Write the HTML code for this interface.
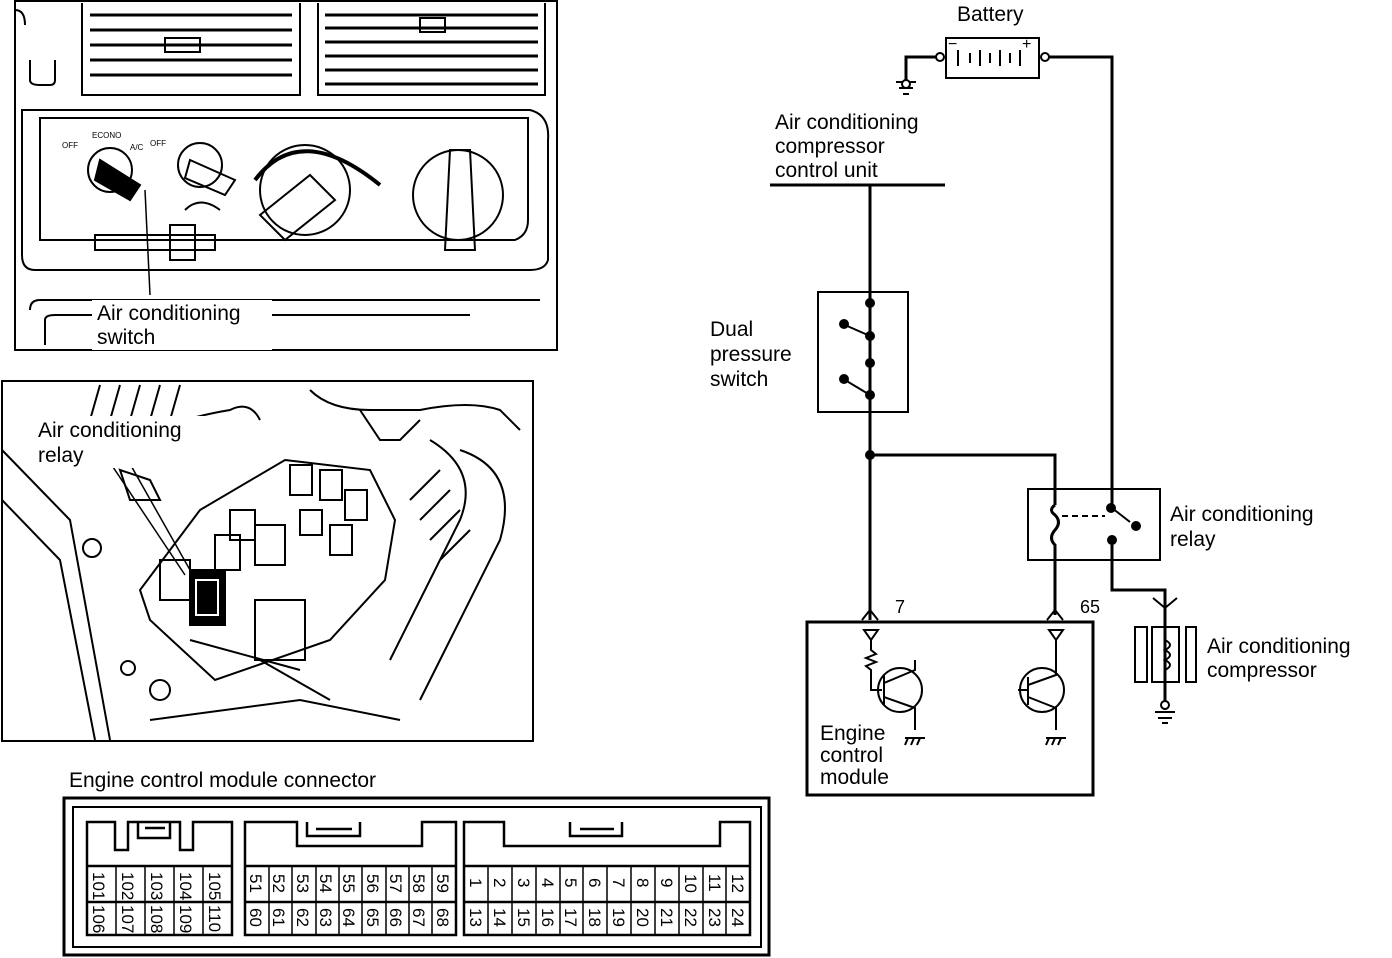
<!DOCTYPE html>
<html><head><meta charset="utf-8"><style>
html,body{margin:0;padding:0;background:#fff;}
svg{display:block;}
text{font-family:"Liberation Sans",sans-serif;fill:#000;}
</style></head><body>
<svg width="1392" height="958" viewBox="0 0 1392 958" xmlns="http://www.w3.org/2000/svg">
<g fill="none" stroke="#000" stroke-width="2">
<rect x="15" y="1" width="542" height="349"/>
<path d="M82 3 V95 H300 V3"/>
<path d="M318 3 V95 H545 V3"/>
<g stroke-width="3">
<path d="M90 15 H292 M90 30 H292 M90 45 H292 M90 60 H292 M90 75 H292"/>
<path d="M325 15 H538 M325 28 H538 M325 42 H538 M325 56 H538 M325 70 H538 M325 84 H538"/>
</g>
<rect x="165" y="38" width="35" height="14"/>
<rect x="420" y="18" width="25" height="14"/>
<path d="M30 60 V80 Q30 85 40 85 H50 Q55 85 55 80 V60"/>
<path d="M15 10 Q25 10 25 25"/>
<path d="M22 110 H530 Q550 115 548 140 V260 Q545 270 530 270 H35 Q22 270 22 255 Z"/>
<path d="M40 118 H528 V220 Q528 235 515 240 H40 Z"/>
<circle cx="110" cy="170" r="22"/>
<path d="M100 160 L140 185 L130 200 L95 180 Z" fill="#000"/>
<circle cx="200" cy="165" r="22"/>
<path d="M190 160 L235 180 L225 195 L185 178 Z"/>
<circle cx="305" cy="190" r="45"/>
<path d="M260 215 L310 175 L335 200 L285 240 Z"/>
<path d="M255 180 Q300 120 380 185" stroke-width="4"/>
<circle cx="458" cy="195" r="45"/>
<path d="M450 150 L470 150 L475 250 L445 250 Z"/>
<path d="M95 235 H215 V250 H95 Z"/>
<rect x="170" y="225" width="25" height="35"/>
<path d="M185 210 Q200 195 220 210" />
<path d="M30 310 Q30 300 40 300 H540 M45 345 V320 Q45 315 55 315 H300 M300 315 H470"/>
<path d="M145 190 L150 295" stroke-width="1.5"/>
<rect x="2" y="381" width="531" height="360"/>
<path d="M100 385 L90 420 M120 385 L110 420 M140 385 L130 420 M160 385 L150 420 M180 385 L170 420"/>
<path d="M2 450 L70 520 L110 740"/>
<path d="M2 500 L60 560 L95 740"/>
<path d="M140 440 Q170 420 230 410 Q250 400 260 420"/>
<circle cx="92" cy="548" r="9"/>
<path d="M120 470 L150 480 L160 500 L130 500 Z"/>
<path d="M310 390 Q330 410 370 410 L420 410 Q470 400 500 410 L520 430"/>
<path d="M360 410 L380 440 L400 440 L420 420"/>
<path d="M430 440 Q480 470 460 520 L420 600 L390 660"/>
<path d="M460 450 Q520 470 500 540 L450 640 L420 700"/>
<path d="M410 500 L440 470 M420 520 L450 490 M430 540 L460 510 M440 560 L470 530"/>
<path d="M285 460 L370 470 L395 520 L385 580 L330 640 L215 680 L150 620 L140 590 L200 510 Z"/>
<rect x="290" y="465" width="22" height="30"/>
<rect x="320" y="470" width="22" height="30"/>
<rect x="345" y="490" width="22" height="30"/>
<rect x="300" y="510" width="22" height="25"/>
<rect x="330" y="525" width="22" height="30"/>
<rect x="230" y="510" width="25" height="30"/>
<rect x="255" y="525" width="30" height="40"/>
<rect x="215" y="535" width="25" height="35"/>
<rect x="160" y="560" width="30" height="40"/>
<rect x="190" y="570" width="35" height="55" fill="#000"/>
<rect x="196" y="580" width="22" height="35" stroke="#fff"/>
<rect x="255" y="600" width="50" height="60"/>
<path d="M190 640 L300 670 M260 660 L330 700"/>
<circle cx="160" cy="690" r="10"/>
<circle cx="128" cy="668" r="7"/>
<path d="M150 720 L300 700 L400 720"/>
<path d="M105 455 L185 575" stroke-width="1.5"/>
<path d="M125 455 L190 570" stroke-width="1.5"/>
</g>
<rect x="92" y="300" width="180" height="50" fill="#fff"/>
<text x="97" y="320" font-size="21">Air conditioning</text>
<text x="97" y="344" font-size="21">switch</text>
<rect x="34" y="416" width="175" height="52" fill="#fff"/>
<text x="38" y="437" font-size="21">Air conditioning</text>
<text x="38" y="462" font-size="21">relay</text>
<g font-size="8"><text x="62" y="148">OFF</text><text x="92" y="138">ECONO</text><text x="130" y="150">A/C</text><text x="150" y="146">OFF</text></g>

<text x="69" y="787" font-size="21">Engine control module connector</text>
<g fill="none" stroke="#000">
<rect x="64" y="798" width="705" height="157" stroke-width="3"/>
<rect x="73" y="807" width="688" height="140" stroke-width="2"/>
<g stroke-width="2.5">
<path d="M87 935 V822 H115 V850 H128 V822 H180 V850 H193 V822 H232 V935 Z"/>
<path d="M138 822 V838 H170 V822 M145 828 H165"/>
<path d="M245 935 V822 H297 V846 H422 V822 H456 V935 Z"/>
<path d="M307 822 V836 H360 V822 M316 829 H352"/>
<path d="M464 935 V822 H504 V846 H720 V822 H750 V935 Z"/>
<path d="M570 822 V836 H622 V822 M580 829 H614"/>
<path d="M87 866 H232 M87 902 H232 M245 866 H456 M245 902 H456 M464 866 H750 M464 902 H750"/>
</g>
<g stroke-width="1.5">
<path d="M116 866 V935 M145 866 V935 M174 866 V935 M203 866 V935"/>
<path d="M269 866 V935 M292 866 V935 M316 866 V935 M339 866 V935 M362 866 V935 M386 866 V935 M409 866 V935 M432 866 V935"/>
<path d="M488 866 V935 M512 866 V935 M536 866 V935 M560 866 V935 M583 866 V935 M607 866 V935 M631 866 V935 M655 866 V935 M679 866 V935 M703 866 V935 M726 866 V935"/>
</g>
</g>
<g font-size="17">
<text transform="translate(93,872) rotate(90)">101</text>
<text transform="translate(122,872) rotate(90)">102</text>
<text transform="translate(151,872) rotate(90)">103</text>
<text transform="translate(180,872) rotate(90)">104</text>
<text transform="translate(209,872) rotate(90)">105</text>
<text transform="translate(93,905) rotate(90)">106</text>
<text transform="translate(122,905) rotate(90)">107</text>
<text transform="translate(151,905) rotate(90)">108</text>
<text transform="translate(180,905) rotate(90)">109</text>
<text transform="translate(209,905) rotate(90)">110</text>
<text transform="translate(250,874) rotate(90)">51</text>
<text transform="translate(273,874) rotate(90)">52</text>
<text transform="translate(297,874) rotate(90)">53</text>
<text transform="translate(320,874) rotate(90)">54</text>
<text transform="translate(343,874) rotate(90)">55</text>
<text transform="translate(367,874) rotate(90)">56</text>
<text transform="translate(390,874) rotate(90)">57</text>
<text transform="translate(413,874) rotate(90)">58</text>
<text transform="translate(437,874) rotate(90)">59</text>
<text transform="translate(250,908) rotate(90)">60</text>
<text transform="translate(273,908) rotate(90)">61</text>
<text transform="translate(297,908) rotate(90)">62</text>
<text transform="translate(320,908) rotate(90)">63</text>
<text transform="translate(343,908) rotate(90)">64</text>
<text transform="translate(367,908) rotate(90)">65</text>
<text transform="translate(390,908) rotate(90)">66</text>
<text transform="translate(413,908) rotate(90)">67</text>
<text transform="translate(437,908) rotate(90)">68</text>
<text transform="translate(470,878) rotate(90)">1</text>
<text transform="translate(494,878) rotate(90)">2</text>
<text transform="translate(518,878) rotate(90)">3</text>
<text transform="translate(542,878) rotate(90)">4</text>
<text transform="translate(565,878) rotate(90)">5</text>
<text transform="translate(589,878) rotate(90)">6</text>
<text transform="translate(613,878) rotate(90)">7</text>
<text transform="translate(637,878) rotate(90)">8</text>
<text transform="translate(661,878) rotate(90)">9</text>
<text transform="translate(685,874) rotate(90)">10</text>
<text transform="translate(709,874) rotate(90)">11</text>
<text transform="translate(732,874) rotate(90)">12</text>
<text transform="translate(470,908) rotate(90)">13</text>
<text transform="translate(494,908) rotate(90)">14</text>
<text transform="translate(518,908) rotate(90)">15</text>
<text transform="translate(542,908) rotate(90)">16</text>
<text transform="translate(565,908) rotate(90)">17</text>
<text transform="translate(589,908) rotate(90)">18</text>
<text transform="translate(613,908) rotate(90)">19</text>
<text transform="translate(637,908) rotate(90)">20</text>
<text transform="translate(661,908) rotate(90)">21</text>
<text transform="translate(685,908) rotate(90)">22</text>
<text transform="translate(709,908) rotate(90)">23</text>
<text transform="translate(732,908) rotate(90)">24</text>
</g>

<g font-size="21">
<text x="957" y="21">Battery</text>
<text x="775" y="129">Air conditioning</text>
<text x="775" y="153">compressor</text>
<text x="775" y="177">control unit</text>
<text x="710" y="336">Dual</text>
<text x="710" y="361">pressure</text>
<text x="710" y="386">switch</text>
<text x="1170" y="521">Air conditioning</text>
<text x="1170" y="546">relay</text>
<text x="1207" y="653">Air conditioning</text>
<text x="1207" y="677">compressor</text>
<text x="820" y="740">Engine</text>
<text x="820" y="762">control</text>
<text x="820" y="784">module</text>
<text x="895" y="613" font-size="18">7</text>
<text x="1080" y="613" font-size="18">65</text>
<text x="948" y="49" font-size="16">−</text>
<text x="1022" y="49" font-size="16">+</text>
</g>
<g fill="none" stroke="#000" stroke-width="3">
<rect x="946" y="38" width="93" height="40" stroke-width="2"/>
<path d="M958 50 V66 M970 53 V63 M980 50 V66 M990 53 V63 M1000 50 V66 M1010 53 V63 M1020 50 V66" stroke-width="2"/>
<path d="M1045 57 H1112 V508"/>
<path d="M940 57 H906 V80"/>
<path d="M896 82 H916 M899 88 H913 M903 94 H909" stroke-width="2"/>
<path d="M770 185 H945"/>
<path d="M870 185 V303 M870 303 V395 M870 395 V620"/>
<rect x="818" y="292" width="90" height="120" stroke-width="2"/>
<path d="M845 325 L870 336 M845 380 L870 395" stroke-width="2"/>
<path d="M870 455 H1055 V505"/>
<path d="M1055 505 Q1048 510 1055 515 Q1062 522 1055 530 Q1048 538 1055 545 V615"/>
<rect x="1028" y="489" width="132" height="71" stroke-width="2"/>
<path d="M1062 516 H1105" stroke-dasharray="6 4" stroke-width="2"/>
<path d="M1112 508 L1130 522" stroke-width="2"/>
<path d="M1112 540 V590 H1165 V690"/>
<path d="M1165 690 V710"/>
<path d="M1155 712 H1175 M1158 718 H1172 M1162 723 H1168" stroke-width="2"/>
<path d="M1153 598 L1165 608 L1177 598 M862 620 L870 610 L878 620 M1047 620 L1055 610 L1063 620" stroke-width="2"/>
<rect x="1152" y="627" width="27" height="55" stroke-width="2"/>
<rect x="1135" y="627" width="12" height="55" stroke-width="2"/>
<rect x="1186" y="627" width="10" height="55" stroke-width="2"/>
<path d="M1165 640 Q1175 645 1165 650 Q1175 655 1165 660 Q1175 665 1165 670" stroke-width="2"/>
<rect x="807" y="622" width="286" height="173"/>
<path d="M864 630 H878 L871 640 Z M1049 630 H1063 L1056 640 Z" stroke-width="2"/>
<path d="M871 640 V650 L876 654 L866 658 L876 662 L866 666 L871 670 V690 H882" stroke-width="2"/>
<circle cx="900" cy="690" r="22" stroke-width="2"/>
<path d="M884 675 V705 M884 683 L915 670 V660 M884 697 L915 708 V730" stroke-width="2"/>
<path d="M905 738 H925 M908 738 L905 745 M914 738 L911 745 M920 738 L917 745" stroke-width="2"/>
<circle cx="1042" cy="690" r="22" stroke-width="2"/>
<path d="M1056 640 V675 L1028 685 M1028 677 V705 M1028 697 L1056 708 V730 M1028 690 H1018" stroke-width="2"/>
<path d="M1046 738 H1066 M1049 738 L1046 745 M1055 738 L1052 745 M1061 738 L1058 745" stroke-width="2"/>
</g>
<g fill="#000">
<circle cx="940" cy="57" r="4" fill="#fff" stroke="#000" stroke-width="2"/>
<circle cx="1045" cy="57" r="4" fill="#fff" stroke="#000" stroke-width="2"/>
<circle cx="906" cy="84" r="4" fill="#fff" stroke="#000" stroke-width="2"/>
<circle cx="870" cy="303" r="5"/><circle cx="870" cy="336" r="5"/>
<circle cx="870" cy="363" r="5"/><circle cx="870" cy="395" r="5"/>
<circle cx="844" cy="324" r="5"/><circle cx="844" cy="379" r="5"/>
<circle cx="870" cy="455" r="5"/>
<circle cx="1111" cy="508" r="5"/><circle cx="1136" cy="526" r="5"/><circle cx="1112" cy="540" r="5"/>
<circle cx="1165" cy="705" r="4" fill="#fff" stroke="#000" stroke-width="2"/>
</g>
</svg>
</body></html>
